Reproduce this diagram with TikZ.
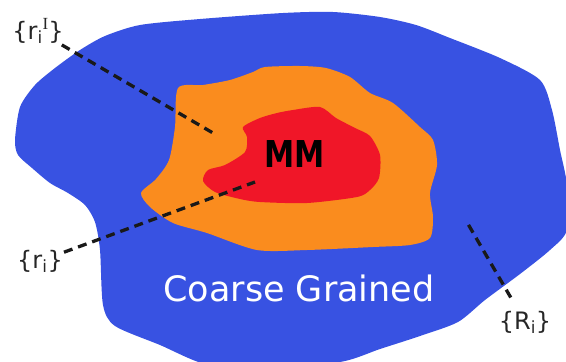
\documentclass[tikz,border=0pt]{standalone}
\usepackage{fontspec}
\setmainfont{DejaVu Sans}
\newfontfamily\serifI{Liberation Serif}
\begin{document}
\begin{tikzpicture}[x=1pt,y=-1pt,
  lbl/.style={inner sep=1pt, font=\fontsize{24}{24}\selectfont, text=black!85},
  leader/.style={draw=black!90, line width=3.3pt, dash pattern=on 9pt off 6pt}]
\definecolor{cgblue}{RGB}{56,82,226}
\definecolor{qmorange}{RGB}{250,140,30}
\definecolor{mmred}{RGB}{240,22,40}
\useasboundingbox (0,0) rectangle (566,362);
\clip (0,0) rectangle (566,362);
% coarse grained region
\fill[cgblue] plot[smooth cycle, tension=0.45] coordinates {
 (15,140) (20,107) (35,85) (55,68) (80,50) (105,36) (140,25) (200,19) (283,13)
 (333,12) (380,17) (416,25) (450,38) (500,58) (540,80) (552,110) (560,150)
 (567,185) (567,230) (550,250) (520,274) (485,300) (458,322) (420,336)
 (380,349) (340,362) (260,368) (205,364) (160,345) (115,326) (103,305)
 (100,250) (95,222) (85,205) (68,193) (50,183) (32,168) (18,155)};
% interface region
\fill[qmorange] plot[smooth cycle, tension=0.45] coordinates {
 (178,88) (203,85) (230,80) (253,72) (265,67) (300,66) (326,68) (350,77)
 (370,93) (393,103) (420,127) (433,140) (437,165) (430,193) (433,217)
 (430,238) (410,245) (373,247) (307,250) (257,250) (207,233) (173,223)
 (150,207) (141,193) (156,179) (169,160) (175,127)};
% MM region
\fill[mmred] plot[smooth cycle, tension=0.45] coordinates {
 (243,127) (260,118) (277,113) (293,110) (320,107) (336,118) (355,128)
 (370,136) (380,155) (379,178) (370,190) (357,197) (307,203) (260,202)
 (240,199) (215,192) (203,181) (208,170) (225,165) (245,152) (247,137)};
\node[font=\bfseries\fontsize{37}{37}\selectfont, text=black, xscale=0.82, anchor=base] (mm) at (295,167) {MM};
\node[font=\fontsize{35}{35}\selectfont, text=white, anchor=base] (cg) at (299,301) {Coarse Grained};
% labels
\node[lbl] (lrI) at (38,31) {\{r\textsubscript{i}\raisebox{0.42em}{\serifI\fontsize{17}{17}\selectfont I}\}};
\node[lbl] (lr) at (40,261) {\{r\textsubscript{i}\}};
\node[lbl] (lR) at (525,322) {\{R\textsubscript{i}\}};
\coordinate (e1) at (213,133);
\coordinate (e2) at (255,182);
\coordinate (e3) at (468,224);
\draw[leader] (lrI) -- (e1);
\draw[leader] (lr) -- (e2);
\draw[leader, shorten <=14pt] (lR) -- (e3);
\end{tikzpicture}
\end{document}
